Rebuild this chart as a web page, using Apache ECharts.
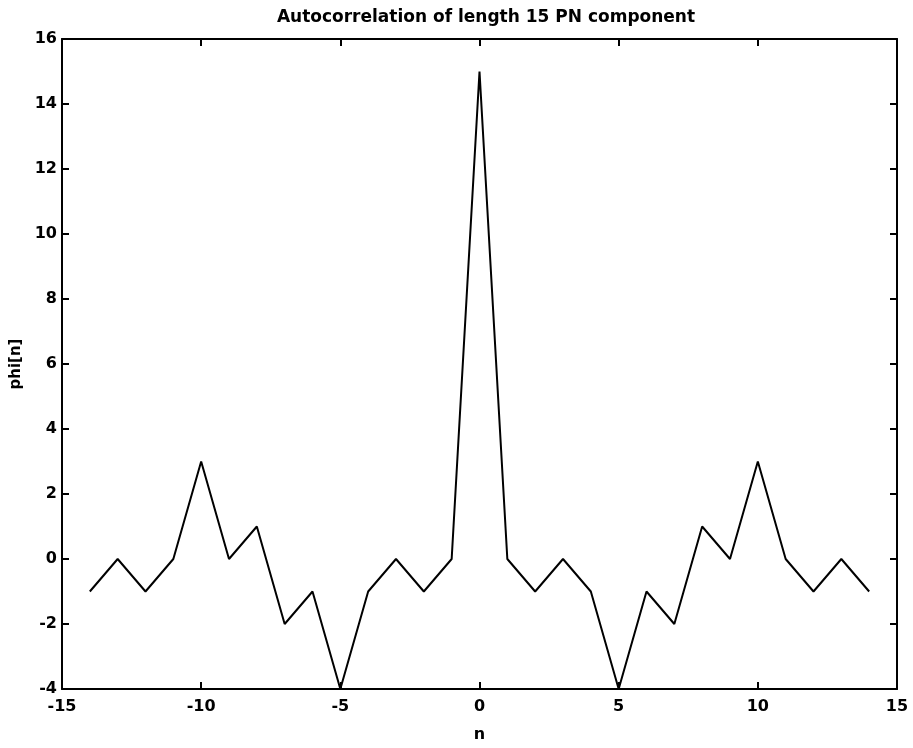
<!DOCTYPE html>
<html>
<head>
<meta charset="utf-8">
<script src="https://cdn.jsdelivr.net/npm/echarts@6/dist/echarts.min.js"></script>
<style>
  html, body { margin: 0; padding: 0; background: #fff; }
</style>
</head>
<body>
<div id="main" style="width: 913px;height: 748px;"></div>
<script>
// lag values and autocorrelation
const lags = [-14, -13, -12, -11, -10, -9, -8, -7, -6, -5, -4, -3, -2, -1, 0,
              1, 2, 3, 4, 5, 6, 7, 8, 9, 10, 11, 12, 13, 14];
const phi = [-1, 0, -1, 0, 3, 0, 1, -2, -1, -4, -1, 0, -1, 0, 15,
             0, -1, 0, -1, -4, -1, -2, 1, 0, 3, 0, -1, 0, -1];

const points = lags.map((n, i) => [n, phi[i]]);

const font = 'DejaVu Sans, Arial, sans-serif';
const lineStyle = { color: '#000', width: 2 };

const chart = echarts.init(document.getElementById('main'));
const option = {
  animation: false,
  title: {
    text: 'Autocorrelation of length 15 PN component',
    left: 481, top: 4, textAlign: 'center',
    textStyle: { fontFamily: font, fontSize: 17, fontWeight: 'bold', color: '#000' }
  },
  grid: { left: 62, right: 16, top: 39, bottom: 56 },
  xAxis: [
    {
      type: 'value', min: -15, max: 15, interval: 5,
      name: 'n', nameLocation: 'middle', nameGap: 38,
      nameTextStyle: { fontFamily: font, fontSize: 16, fontWeight: 'bold', color: '#000' },
      axisLine: { onZero: false, lineStyle: lineStyle },
      axisTick: { inside: true, length: 7, lineStyle: lineStyle },
      axisLabel: { fontFamily: font, fontSize: 16, fontWeight: 'bold', color: '#000', margin: 10 },
      splitLine: { show: false }
    },
    {
      type: 'value', min: -15, max: 15, interval: 5, position: 'top',
      axisLine: { onZero: false, lineStyle: lineStyle },
      axisTick: { inside: true, length: 7, lineStyle: lineStyle },
      axisLabel: { show: false },
      splitLine: { show: false }
    }
  ],
  yAxis: [
    {
      type: 'value', min: -4, max: 16, interval: 2,
      name: 'phi[n]', nameLocation: 'middle', nameGap: 38, nameRotate: 90,
      nameTextStyle: { fontFamily: font, fontSize: 15, fontWeight: 'bold', color: '#000' },
      axisLine: { show: true, onZero: false, lineStyle: lineStyle },
      axisTick: { show: true, inside: true, length: 7, lineStyle: lineStyle },
      axisLabel: { fontFamily: font, fontSize: 16, fontWeight: 'bold', color: '#000', margin: 5 },
      splitLine: { show: false }
    },
    {
      type: 'value', min: -4, max: 16, interval: 2, position: 'right',
      axisLine: { show: true, onZero: false, lineStyle: lineStyle },
      axisTick: { show: true, inside: true, length: 7, lineStyle: lineStyle },
      axisLabel: { show: false },
      splitLine: { show: false }
    }
  ],
  series: [
    {
      name: 'phi',
      type: 'line',
      data: points,
      showSymbol: false,
      lineStyle: { color: '#000', width: 2 }
    }
  ]
};
chart.setOption(option);
</script>
</body>
</html>
